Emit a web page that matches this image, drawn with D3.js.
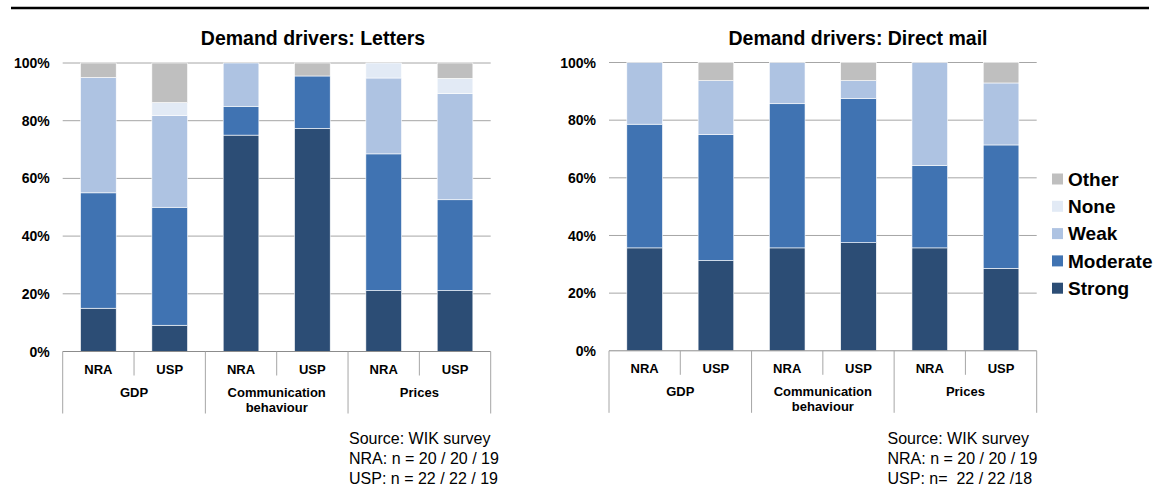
<!DOCTYPE html>
<html>
<head>
<meta charset="utf-8">
<script src="https://cdn.jsdelivr.net/npm/d3@7"></script>
<style>
  body { margin: 0; background: #fff; }
  text { font-family: "Liberation Sans", Arial, sans-serif; fill: #000; }
  tspan { white-space: pre; }
</style>
</head>
<body>
<div id="chart"></div>
<script>
// categories and groups (same for both charts)
const categories = ["NRA", "USP", "NRA", "USP", "NRA", "USP"];
const groups = [["GDP"], ["Communication", "behaviour"], ["Prices"]];
const seriesNames = ["Strong", "Moderate", "Weak", "None", "Other"];
const yTicks = [0, 20, 40, 60, 80, 100];

// Letters (share of answers, %)
const lettersStrong   = [15.0,  9.1, 75.0, 77.3, 21.1, 21.1];
const lettersModerate = [40.0, 40.9, 10.0, 18.2, 47.4, 31.5];
const lettersWeak     = [40.0, 31.8, 15.0,  0.0, 26.3, 36.8];
const lettersNone     = [ 0.0,  4.5,  0.0,  0.0,  5.2,  5.3];
const lettersOther    = [ 5.0, 13.7,  0.0,  4.5,  0.0,  5.3];

// Direct mail (share of answers, %)
const mailStrong   = [35.7, 31.3, 35.7, 37.5, 35.7, 28.6];
const mailModerate = [42.9, 43.7, 50.0, 50.0, 28.6, 42.8];
const mailWeak     = [21.4, 18.7, 14.3,  6.2, 35.7, 21.5];
const mailNone     = [ 0.0,  0.0,  0.0,  0.0,  0.0,  0.0];
const mailOther    = [ 0.0,  6.3,  0.0,  6.3,  0.0,  7.1];

const colors = {Strong: "#2c4d75", Moderate: "#4073b2", Weak: "#aec3e2", None: "#e2eaf5", Other: "#bfbfbf"};

const svg = d3.select("#chart").append("svg")
  .attr("width", 1164)
  .attr("height", 489);

// top rule
svg.append("line")
  .attr("x1", 11).attr("x2", 1149)
  .attr("y1", 8).attr("y2", 8)
  .attr("stroke", "#000").attr("stroke-width", 2.5);

function buildRows(s, m, w, n, o) {
  return categories.map((c, i) => ({i: i, Strong: s[i], Moderate: m[i], Weak: w[i], None: n[i], Other: o[i]}));
}

function drawChart(opts) {
  const x0 = opts.left, x1 = opts.right, yTop = opts.top, yBot = opts.bottom;
  const g = svg.append("g");

  const x = d3.scaleBand()
    .domain(d3.range(categories.length))
    .range([x0, x1])
    .paddingInner(0.5)
    .paddingOuter(0.25);
  const step = (x1 - x0) / categories.length;

  const y = d3.scaleLinear().domain([0, 100]).range([yBot, yTop]);

  // gridlines
  g.append("g").selectAll("line")
    .data(yTicks.filter(d => d > 0))
    .enter().append("line")
      .attr("x1", x0).attr("x2", x1)
      .attr("y1", d => y(d)).attr("y2", d => y(d))
      .attr("stroke", "#a6a6a6").attr("stroke-width", 1);

  // y tick labels
  g.append("g").selectAll("text")
    .data(yTicks)
    .enter().append("text")
      .attr("x", x0 - 13)
      .attr("y", d => y(d))
      .attr("dy", "0.36em")
      .attr("text-anchor", "end")
      .style("font-size", "14px")
      .style("font-weight", "bold")
      .text(d => d + "%");

  // stacked bars
  const stack = d3.stack().keys(seriesNames);
  const layers = stack(opts.rows);
  g.append("g").selectAll("g")
    .data(layers)
    .enter().append("g")
      .attr("fill", d => colors[d.key])
    .selectAll("rect")
    .data(d => d)
    .enter().append("rect")
      .attr("x", d => x(d.data.i))
      .attr("width", x.bandwidth())
      .attr("y", d => y(d[1]))
      .attr("height", d => Math.max(0, y(d[0]) - y(d[1])))
      .attr("stroke", d => (d[1] - d[0]) > 0 ? "#fff" : "none")
      .attr("stroke-width", 0.6);

  // category axis
  g.append("line")
    .attr("x1", x0).attr("x2", x1)
    .attr("y1", yBot).attr("y2", yBot)
    .attr("stroke", "#8c8c8c");

  g.append("g").selectAll("line")
    .data(d3.range(categories.length + 1))
    .enter().append("line")
      .attr("x1", d => x0 + d * step).attr("x2", d => x0 + d * step)
      .attr("y1", yBot)
      .attr("y2", d => d % 2 === 0 ? yBot + 62 : yBot + 24)
      .attr("stroke", "#a6a6a6");

  g.append("g").selectAll("text")
    .data(categories)
    .enter().append("text")
      .attr("x", (d, i) => x(i) + x.bandwidth() / 2)
      .attr("y", yBot + 22)
      .attr("text-anchor", "middle")
      .style("font-size", "13px")
      .style("font-weight", "bold")
      .text(d => d);

  groups.forEach((lines, gi) => {
    const t = g.append("text")
      .attr("x", x0 + step * (gi * 2 + 1))
      .attr("y", yBot + 45)
      .attr("text-anchor", "middle")
      .style("font-size", "13px")
      .style("font-weight", "bold");
    lines.forEach((l, li) => {
      t.append("tspan")
        .attr("x", x0 + step * (gi * 2 + 1))
        .attr("dy", li === 0 ? 0 : 15)
        .text(l);
    });
  });

  // title
  g.append("text")
    .attr("x", opts.titleX)
    .attr("y", 45)
    .attr("text-anchor", "middle")
    .style("font-size", "19.5px")
    .style("font-weight", "bold")
    .text(opts.title);

  // source note
  const note = g.append("text")
    .attr("x", opts.noteX)
    .attr("y", 444)
    .style("font-size", "16px");
  opts.note.forEach((l, li) => {
    note.append("tspan").attr("x", opts.noteX).attr("dy", li === 0 ? 0 : 20).text(l);
  });
}

drawChart({
  title: "Demand drivers: Letters",
  rows: buildRows(lettersStrong, lettersModerate, lettersWeak, lettersNone, lettersOther),
  left: 62.7, right: 490.7, top: 63, bottom: 351.5,
  titleX: 313,
  noteX: 349,
  note: ["Source: WIK survey", "NRA: n = 20 / 20 / 19", "USP: n = 22 / 22 / 19"]
});

drawChart({
  title: "Demand drivers: Direct mail",
  rows: buildRows(mailStrong, mailModerate, mailWeak, mailNone, mailOther),
  left: 609, right: 1036.7, top: 62.5, bottom: 350.8,
  titleX: 858,
  noteX: 887.5,
  note: ["Source: WIK survey", "NRA: n = 20 / 20 / 19", "USP: n=  22 / 22 /18"]
});

// legend (top to bottom: Other .. Strong)
const legendItems = seriesNames.slice().reverse();
const legend = svg.append("g").selectAll("g")
  .data(legendItems)
  .enter().append("g")
    .attr("transform", (d, i) => "translate(1052," + (179 + i * 27.3) + ")");
legend.append("rect")
  .attr("x", 0).attr("y", -5.5)
  .attr("width", 11).attr("height", 11)
  .attr("fill", d => colors[d]);
legend.append("text")
  .attr("x", 16)
  .attr("dy", "0.36em")
  .style("font-size", "19px")
  .style("font-weight", "bold")
  .text(d => d);
</script>
</body>
</html>
